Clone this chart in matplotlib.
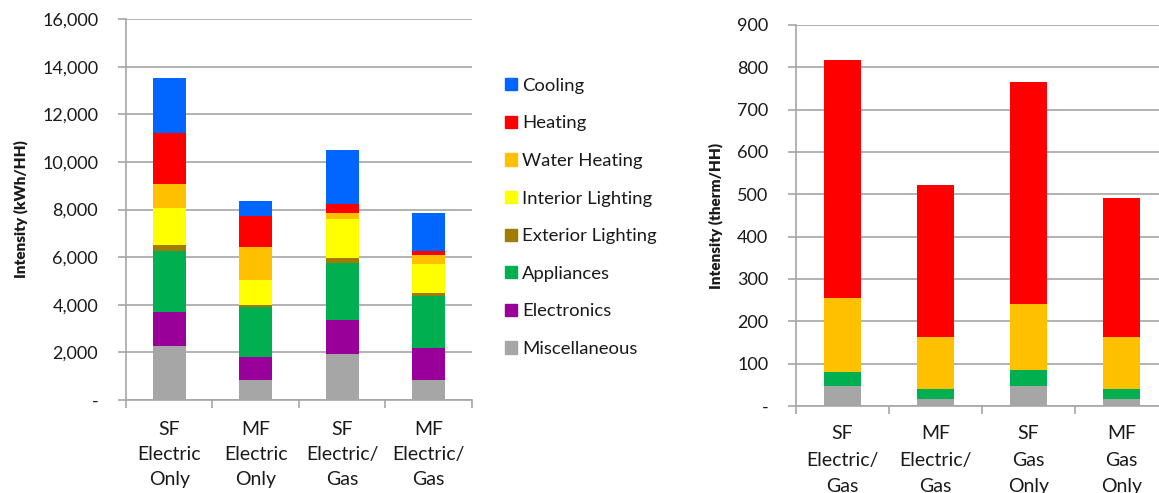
import numpy as np
import matplotlib
matplotlib.use("Agg")
import matplotlib.pyplot as plt
from matplotlib.ticker import FuncFormatter, FixedLocator
from matplotlib.patches import Patch

plt.rcParams['font.family'] = ['Lato', 'DejaVu Sans']

# electricity intensity (kWh/HH)
elec_cats = ["SF\nElectric\nOnly", "MF\nElectric\nOnly", "SF\nElectric/\nGas", "MF\nElectric/\nGas"]
misc = [2250, 850, 1930, 850]
electronics = [1450, 940, 1410, 1340]
appliances = [2550, 2130, 2430, 2170]
ext_light = [270, 50, 210, 130]
int_light = [1550, 1070, 1610, 1230]
water = [1020, 1400, 280, 380]
heating = [2140, 1300, 350, 150]
cooling = [2310, 600, 2270, 1620]

# gas intensity (therm/HH)
gas_cats = ["SF\nElectric/\nGas", "MF\nElectric/\nGas", "SF\nGas\nOnly", "MF\nGas\nOnly"]
misc_g = [47, 17, 47, 17]
app_g = [34, 23, 38, 23]
water_g = [175, 122, 155, 122]
heat_g = [561, 360, 525, 330]

names = ["Miscellaneous", "Electronics", "Appliances", "Exterior Lighting",
         "Interior Lighting", "Water Heating", "Heating", "Cooling"]
colors = {"Miscellaneous": "#A6A6A6", "Electronics": "#990099", "Appliances": "#00B050",
          "Exterior Lighting": "#A07C00", "Interior Lighting": "#FFFF00",
          "Water Heating": "#FFC000", "Heating": "#FF0000", "Cooling": "#0066FF"}

grid_c = "#A6A6A6"
txt_c = "#1a1a1a"


def style(ax, ymax, step, fmt, pad, spacing):
    ax.set_ylim(0, ymax)
    ax.set_xlim(-0.5, 3.5)
    ax.set_yticks(np.arange(0, ymax + 1, step))
    ax.yaxis.set_major_formatter(FuncFormatter(fmt))
    ax.grid(axis="y", color=grid_c, linewidth=1.2)
    ax.set_axisbelow(True)
    for s in ["top", "right"]:
        ax.spines[s].set_visible(False)
    for s in ["left", "bottom"]:
        ax.spines[s].set_color(grid_c)
        ax.spines[s].set_linewidth(1.2)
    ax.tick_params(axis="y", length=6, color=grid_c, width=1.2, pad=14,
                   labelsize=13, labelcolor=txt_c)
    ax.tick_params(axis="x", which="major", length=0, pad=pad, labelsize=14,
                   labelcolor=txt_c)
    ax.xaxis.set_minor_locator(FixedLocator([-0.5, 0.5, 1.5, 2.5, 3.5]))
    ax.tick_params(axis="x", which="minor", length=6, color=grid_c, width=1.2)
    for lab in ax.get_xticklabels():
        lab.set_linespacing(spacing)


fig = plt.figure(figsize=(11.59, 4.93), dpi=100)

ax1 = fig.add_axes([0.1087, 0.189, 0.2985, 0.772])
x = np.arange(len(elec_cats))
series = [misc, electronics, appliances, ext_light, int_light, water, heating, cooling]
bottom = np.zeros(len(x))
for name, vals in zip(names, series):
    ax1.bar(x, vals, width=0.38, bottom=bottom, color=colors[name])
    bottom += np.array(vals)
ax1.set_xticks(x)
ax1.set_xticklabels(elec_cats)
style(ax1, 16000, 2000, lambda v, p: "-" if v == 0 else f"{int(v):,}", 15, 1.6)
ax1.set_ylabel("Intensity (kWh/HH)", fontweight="heavy", fontsize=11, color=txt_c, labelpad=10)

handles = [Patch(color=colors[n]) for n in names[::-1]]
fig.legend(handles, names[::-1], loc="upper left", bbox_to_anchor=(0.421, 0.876),
           frameon=False, fontsize=13.3, handlelength=0.65, handleheight=0.65,
           handletextpad=0.3, labelspacing=1.17, labelcolor=txt_c)

ax2 = fig.add_axes([0.6868, 0.1765, 0.321, 0.773])
x2 = np.arange(len(gas_cats))
series_g = [("Miscellaneous", misc_g), ("Appliances", app_g),
            ("Water Heating", water_g), ("Heating", heat_g)]
bottom = np.zeros(len(x2))
for name, vals in series_g:
    ax2.bar(x2, vals, width=0.39, bottom=bottom, color=colors[name])
    bottom += np.array(vals)
ax2.set_xticks(x2)
ax2.set_xticklabels(gas_cats)
style(ax2, 900, 100, lambda v, p: "-" if v == 0 else f"{int(v)}", 14, 1.65)
ax2.set_ylabel("Intensity (therm/HH)", fontweight="heavy", fontsize=11, color=txt_c, labelpad=10)

fig.savefig("out.png", dpi=100)
